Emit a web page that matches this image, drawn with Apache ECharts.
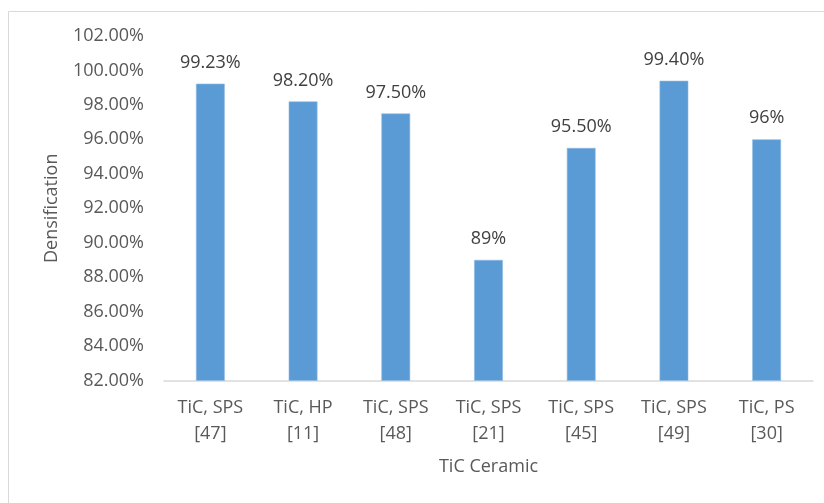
<!DOCTYPE html>
<html>
<head>
<meta charset="utf-8">
<script src="https://cdn.jsdelivr.net/npm/echarts@6/dist/echarts.min.js"></script>
<style>
  html, body { margin: 0; padding: 0; background: #ffffff; }
  #chart { width: 824px; height: 503px; }
</style>
</head>
<body>
<div id="chart"></div>
<script>
// Sintering routes and their reported densification
const categories = [
  'TiC, SPS\n[47]', 'TiC, HP\n[11]', 'TiC, SPS\n[48]', 'TiC, SPS\n[21]',
  'TiC, SPS\n[45]', 'TiC, SPS\n[49]', 'TiC, PS\n[30]'
];
const densification = [99.23, 98.2, 97.5, 89, 95.5, 99.4, 96];
const valueLabels = ['99.23%', '98.20%', '97.50%', '89%', '95.50%', '99.40%', '96%'];

const yMin = 82, yMax = 102, yStep = 2;

const textColor = '#595959';
const fontFamily = '"Open Sans", "Noto Sans", sans-serif';
const fontSize = 18;

const chart = echarts.init(document.getElementById('chart'), null, { renderer: 'canvas' });

chart.setOption({
  backgroundColor: '#ffffff',
  animation: false,
  graphic: [{
    type: 'rect',
    shape: { x: 8.5, y: 11.5, width: 900, height: 600 },
    style: { fill: 'none', stroke: '#d9d9d9', lineWidth: 1 },
    silent: true
  }],
  grid: { left: 164, right: 11, top: 36, bottom: 122.5 },
  xAxis: {
    type: 'category',
    data: categories,
    name: 'TiC Ceramic',
    nameLocation: 'middle',
    nameGap: 77,
    nameTextStyle: { color: textColor, fontSize, fontFamily },
    axisLine: { lineStyle: { color: '#d9d9d9', width: 1.5 } },
    axisTick: { show: false },
    axisLabel: {
      color: textColor, fontSize, fontFamily,
      lineHeight: 26, margin: 14, interval: 0
    }
  },
  yAxis: {
    type: 'value',
    min: yMin, max: yMax, interval: yStep,
    name: 'Densification',
    nameLocation: 'middle',
    nameGap: 103,
    nameTextStyle: { color: textColor, fontSize, fontFamily },
    axisLine: { show: false },
    axisTick: { show: false },
    splitLine: { show: false },
    axisLabel: {
      color: textColor, fontSize, fontFamily, margin: 20,
      formatter: v => v.toFixed(2) + '%'
    }
  },
  series: [{
    type: 'bar',
    data: densification,
    barWidth: '31%',
    itemStyle: { color: '#5b9bd5', borderColor: '#8db8e3', borderWidth: 0.6 },
    label: {
      show: true,
      position: 'top',
      distance: 12,
      color: '#404040',
      fontSize,
      fontFamily,
      formatter: p => valueLabels[p.dataIndex]
    }
  }]
});
</script>
</body>
</html>
